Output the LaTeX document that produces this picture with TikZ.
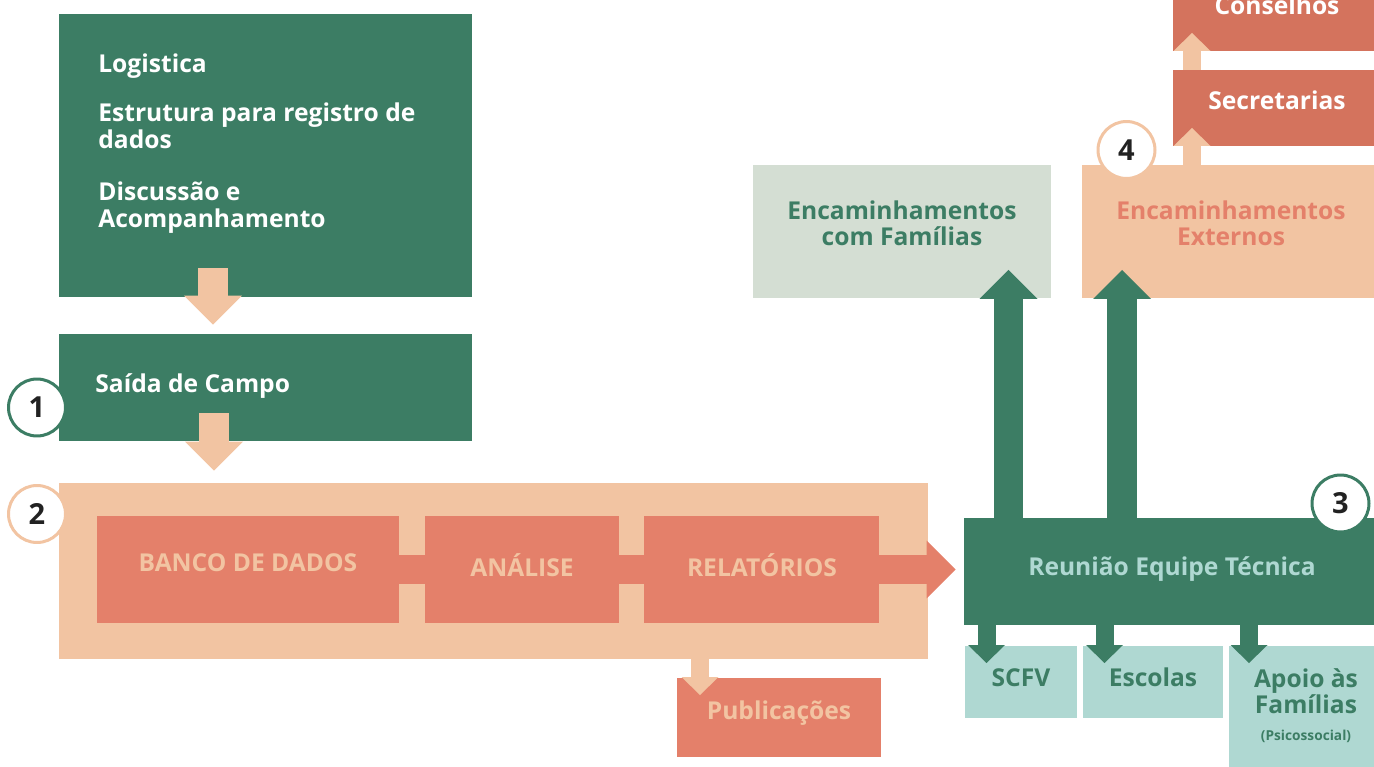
\documentclass[tikz,border=0pt]{standalone}
\usepackage{fontspec}
\setmainfont{Open Sans}[BoldFont={Open Sans Bold}]
\usetikzlibrary{arrows.meta}
\definecolor{verde}{HTML}{3C7D64}
\definecolor{pessego}{HTML}{F2C4A2}
\definecolor{salmao}{HTML}{E4806A}
\definecolor{telha}{HTML}{D4735D}
\definecolor{agua}{HTML}{AFD8D2}
\definecolor{cinza}{HTML}{D4DED3}
\definecolor{tinta}{HTML}{222222}
\tikzstyle{box} = [rectangle, inner sep=0pt]
\tikzstyle{txt} = [inner sep=0pt, font=\bfseries\fontsize{14}{15}\selectfont]
\tikzstyle{num} = [circle, draw, line width=0.06cm, fill=white, minimum size=1.14cm, inner sep=0pt, text=tinta, font=\bfseries\fontsize{16.5}{18}\selectfont]
\tikzstyle{bigarrow} = [draw, line width=0.59cm, -{Triangle[length=0.58cm,width=1.16cm,line width=0pt]}]
\tikzstyle{smallarrow} = [draw, line width=0.36cm, -{Triangle[length=0.36cm,width=0.74cm,line width=0pt]}]
\tikzstyle{bar} = [draw, line width=0.6cm]

\begin{document}
\begin{tikzpicture}[x=0.02cm, y=-0.02cm]

\useasboundingbox (0,0) rectangle (1374,767);
\clip (0,0) rectangle (1374,767);

% caixas
\node[box, fill=verde, minimum width=8.28cm, minimum height=5.66cm] (logi) at (265.5,155.5) {};
\node[box, fill=verde, minimum width=8.28cm, minimum height=2.14cm] (saida) at (265.5,387.5) {};
\node[box, fill=pessego, minimum width=17.38cm, minimum height=3.52cm] (big) at (493.5,571) {};
\node[box, fill=salmao, minimum width=6.04cm, minimum height=2.14cm] (banco) at (248,569.5) {};
\node[box, fill=salmao, minimum width=3.88cm, minimum height=2.14cm] (analise) at (522,569.5) {};
\node[box, fill=salmao, minimum width=4.70cm, minimum height=2.14cm] (relat) at (761.5,569.5) {};
\node[box, fill=salmao, minimum width=4.08cm, minimum height=1.58cm] (pub) at (779,717.5) {};
\node[box, fill=verde, minimum width=8.40cm, minimum height=2.14cm] (reun) at (1174,571.5) {};
\node[box, fill=agua, minimum width=2.24cm, minimum height=1.44cm] (scfv) at (1021,682) {};
\node[box, fill=agua, minimum width=2.80cm, minimum height=1.44cm] (escolas) at (1153,682) {};
\node[box, fill=agua, minimum width=3.10cm, minimum height=2.62cm] (apoio) at (1306.5,711.5) {};
\node[box, fill=cinza, minimum width=5.96cm, minimum height=2.66cm] (encfam) at (902,231.5) {};
\node[box, fill=pessego, minimum width=6.04cm, minimum height=2.66cm] (encext) at (1233,231.5) {};
\node[box, fill=telha, minimum width=4.22cm, minimum height=1.52cm] (secr) at (1278.5,108) {};
\node[box, fill=telha, minimum width=4.22cm, minimum height=1.62cm] (cons) at (1278.5,10.5) {};

% textos
\node[txt, text=white, anchor=north west, align=left] (logit) at (98,53) {Logistica\\[13.3pt]Estrutura para registro de\\dados\\[15pt]Discussão e\\Acompanhamento};
\node[txt, text=white, anchor=base west] (saidat) at (95,392) {Saída de Campo};
\node[txt, text=pessego, anchor=base] (bancot) at (248,571) {BANCO DE DADOS};
\node[txt, text=pessego, anchor=base] (analiset) at (522,576) {ANÁLISE};
\node[txt, text=pessego, anchor=base] (relatt) at (762,576) {RELATÓRIOS};
\node[txt, text=pessego, anchor=base] (pubt) at (779,719) {Publicações};
\node[txt, text=agua, anchor=base] (reunt) at (1172,575) {Reunião Equipe Técnica};
\node[txt, text=verde, anchor=base] (scfvt) at (1021,686) {SCFV};
\node[txt, text=verde, anchor=base] (escolast) at (1153,686) {Escolas};
\node[txt, text=verde, anchor=north, align=center] (apoiot) at (1306,668) {Apoio às\\Famílias};
\node[txt, text=verde, font=\bfseries\fontsize{7.8}{9}\selectfont, anchor=base] (psicot) at (1306,740) {(Psicossocial)};
\node[txt, text=verde, anchor=north, align=center] (encfamt) at (902,200) {Encaminhamentos\\com Famílias};
\node[txt, text=salmao, anchor=north, align=center] (encextt) at (1231,200) {Encaminhamentos\\Externos};
\node[txt, text=white, anchor=base] (secrt) at (1277,110) {Secretarias};
\node[txt, text=white, anchor=base] (const) at (1277,15) {Conselhos};

% setas
\coordinate (a1) at ([xshift=-1.05cm,yshift=0.58cm]logi.south);
\path[bigarrow, pessego, shorten >=0.18cm] (a1) -- (a1 |- saida.north);
\coordinate (a2) at ([xshift=-1.03cm,yshift=0.56cm]saida.south);
\path[bigarrow, pessego, shorten >=0.24cm] (a2) -- (a2 |- big.north);
\path[bar, salmao] (banco.east) -- (analise.west);
\path[bar, salmao] (analise.east) -- (relat.west);
\path[bigarrow, salmao, shorten >=0.16cm] (relat.east) -- (relat.east -| reun.west);
\coordinate (p1) at (700,659);
\path[smallarrow, pessego, shorten >=0.45cm] (p1) -- (p1 |- pub.center);
\coordinate (u1) at (1008.5,518);
\path[bigarrow, verde, shorten >=0.77cm] (u1) -- (u1 |- encfam.center);
\coordinate (u2) at (1122,518);
\path[bigarrow, verde, shorten >=0.77cm] (u2) -- (u2 |- encext.center);
\coordinate (s1) at (1192,165);
\path[smallarrow, pessego, shorten >=0.4cm] (s1) -- (s1 |- secr.center);
\coordinate (s2) at (1192,70);
\path[smallarrow, pessego, shorten >=0.45cm] (s2) -- (s2 |- cons.center);
\coordinate (d1) at (986.5,625);
\path[smallarrow, verde, shorten >=0.38cm] (d1) -- (d1 |- scfv.center);
\coordinate (d2) at (1104.5,625);
\path[smallarrow, verde, shorten >=0.38cm] (d2) -- (d2 |- escolas.center);
\coordinate (d3) at (1249,625);
\path[smallarrow, verde, shorten >=0.97cm] (d3) -- (d3 |- apoio.center);

% numeros
\node[num, draw=verde] (n1) at (37,407.5) {1};
\node[num, draw=pessego] (n2) at (37,514) {2};
\node[num, draw=verde] (n3) at (1340.5,503.5) {3};
\node[num, draw=pessego] (n4) at (1126.5,150) {4};

\end{tikzpicture}
\end{document}
